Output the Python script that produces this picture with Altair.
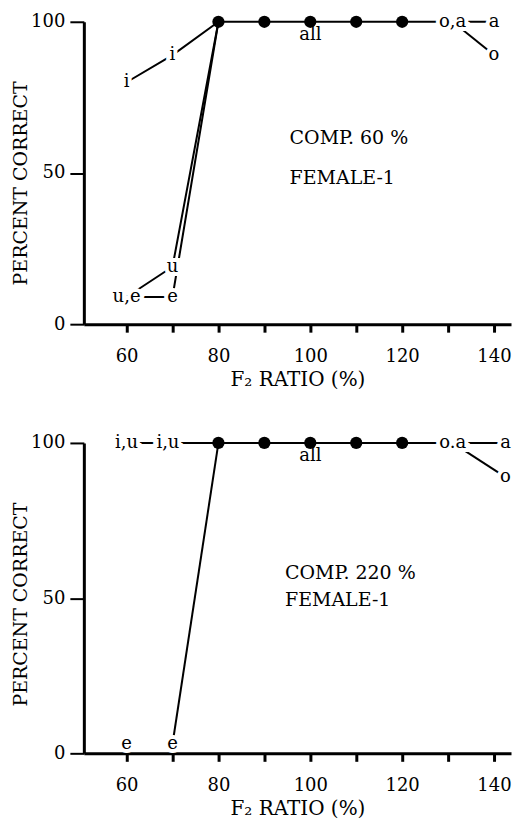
import altair as alt
import pandas as pd

FONT = "DejaVu Serif"
FS = 18
X_DOMAIN = [50.7, 143.7]
X_TICKS = [60, 70, 80, 90, 100, 110, 120, 130, 140]
Y_TICKS = [0, 50, 100]

# ---------------- Top panel: COMP. 60 %, FEMALE-1 ----------------
top_i_x = [60, 70, 80]
top_i_y = [80, 89, 100]
top_u_x = [60, 70, 80]
top_u_y = [9, 19, 100]
top_e_x = [60, 70, 80]
top_e_y = [9, 9, 100]
top_all_x = [80, 90, 100, 110, 120, 131]
top_all_y = [100, 100, 100, 100, 100, 100]
top_a_x = [131, 140]
top_a_y = [100, 100]
top_o_x = [131, 140]
top_o_y = [100, 89]
top_dot_x = [80, 90, 100, 110, 120]
top_dot_y = [100, 100, 100, 100, 100]
top_lab_text = ["i", "i", "u,e", "u", "e", "o,a", "a", "o"]
top_lab_x = [60, 70, 60, 70, 70, 131, 140, 140]
top_lab_y = [80, 89, 9, 19, 9, 100, 100, 89]
top_note_text = ["COMP. 60 %", "FEMALE-1"]
top_note_x = [95.5, 95.5]
top_note_y = [61.5, 48.5]

# ---------------- Bottom panel: COMP. 220 %, FEMALE-1 ----------------
bot_iu_x = [60, 69, 80]
bot_iu_y = [100, 100, 100]
bot_e_x = [70, 80]
bot_e_y = [3, 100]
bot_all_x = [80, 90, 100, 110, 120, 131]
bot_all_y = [100, 100, 100, 100, 100, 100]
bot_a_x = [131, 142.5]
bot_a_y = [100, 100]
bot_o_x = [131, 142.5]
bot_o_y = [100, 89]
bot_dot_x = [80, 90, 100, 110, 120]
bot_dot_y = [100, 100, 100, 100, 100]
bot_lab_text = ["i,u", "i,u", "e", "e", "o.a", "a", "o"]
bot_lab_x = [60, 69, 60, 70, 131, 142.5, 142.5]
bot_lab_y = [100, 100, 3, 3, 100, 100, 89]
bot_note_text = ["COMP. 220 %", "FEMALE-1"]
bot_note_x = [94.5, 94.5]
bot_note_y = [58, 49.5]

ALL_LABEL_X = 100
ALL_LABEL_Y = 100


def lines_df(series):
    rows = []
    for name, xs, ys in series:
        for k, (xv, yv) in enumerate(zip(xs, ys)):
            rows.append({"s": name, "x": xv, "y": yv, "k": k})
    return pd.DataFrame(rows)


def x_enc():
    return alt.X(
        "x:Q",
        scale=alt.Scale(domain=X_DOMAIN, nice=False, zero=False),
        axis=alt.Axis(
            values=X_TICKS,
            labelExpr="datum.value % 20 == 0 ? datum.label : ''",
            title="F\u2082 RATIO (%)",
            tickSize=8, tickWidth=3, domainWidth=3, labelPadding=15,
            labelFontSize=FS, titleFontSize=20, titlePadding=4,
            grid=False, domainColor="black", tickColor="black",
            labelColor="black", titleColor="black", labelFlush=False,
        ),
    )


def y_enc(h, shift):
    return alt.Y(
        "y:Q",
        scale=alt.Scale(domain=[0, 100], nice=False),
        axis=alt.Axis(
            values=Y_TICKS, title="PERCENT CORRECT",
            tickSize=14, tickWidth=2, domainWidth=3, labelPadding=5,
            labelFontSize=FS, titleFontSize=19, titlePadding=0,
            titleY=h / 2 + shift,
            grid=False, domainColor="black", tickColor="black",
            labelColor="black", titleColor="black",
        ),
    )


def panel(series, dot_x, dot_y, lab_text, lab_x, lab_y, note_text, note_x, note_y, h, shift):
    ldf = lines_df(series)
    ddf = pd.DataFrame({"x": dot_x, "y": dot_y})
    tdf = pd.DataFrame({"t": lab_text, "x": lab_x, "y": lab_y})
    ndf = pd.DataFrame({"t": note_text, "x": note_x, "y": note_y})
    adf = pd.DataFrame({"t": ["all"], "x": [ALL_LABEL_X], "y": [ALL_LABEL_Y]})

    lines = alt.Chart(ldf).mark_line(color="black", strokeWidth=2).encode(
        x=x_enc(), y=y_enc(h, shift), detail="s:N", order="k:Q"
    )
    dots = alt.Chart(ddf).mark_circle(color="black", size=150, opacity=1).encode(
        x="x:Q", y="y:Q"
    )
    halo = alt.Chart(tdf).mark_text(
        font=FONT, fontSize=FS, color="white", stroke="white", strokeWidth=8,
        baseline="middle", align="center",
    ).encode(x="x:Q", y="y:Q", text="t:N")
    labels = alt.Chart(tdf).mark_text(
        font=FONT, fontSize=FS, color="black", baseline="middle", align="center",
    ).encode(x="x:Q", y="y:Q", text="t:N")
    all_lab = alt.Chart(adf).mark_text(
        font=FONT, fontSize=FS, color="black", baseline="top", align="center", dy=4,
    ).encode(x="x:Q", y="y:Q", text="t:N")
    notes = alt.Chart(ndf).mark_text(
        font=FONT, fontSize=19, color="black", baseline="middle", align="left",
    ).encode(x="x:Q", y="y:Q", text="t:N")
    return alt.layer(lines, dots, halo, labels, all_lab, notes).properties(
        width=428, height=h
    )


top = panel(
    [("i", top_i_x, top_i_y), ("u", top_u_x, top_u_y), ("e", top_e_x, top_e_y),
     ("all", top_all_x, top_all_y), ("a", top_a_x, top_a_y), ("o", top_o_x, top_o_y)],
    top_dot_x, top_dot_y, top_lab_text, top_lab_x, top_lab_y,
    top_note_text, top_note_x, top_note_y, 303, 10,
)
bottom = panel(
    [("iu", bot_iu_x, bot_iu_y), ("e", bot_e_x, bot_e_y),
     ("all", bot_all_x, bot_all_y), ("a", bot_a_x, bot_a_y), ("o", bot_o_x, bot_o_y)],
    bot_dot_x, bot_dot_y, bot_lab_text, bot_lab_x, bot_lab_y,
    bot_note_text, bot_note_x, bot_note_y, 311, 6,
)

chart = alt.vconcat(top, bottom, spacing=45).properties(
    padding={"top": 4, "left": 3, "right": 0, "bottom": 0}
).configure(
    font=FONT, background="white"
).configure_view(stroke=None).configure_axis(
    labelFont=FONT, titleFont=FONT, titleFontWeight="normal"
)

chart.save("out.html", embed_options={"renderer": "svg", "actions": False})
